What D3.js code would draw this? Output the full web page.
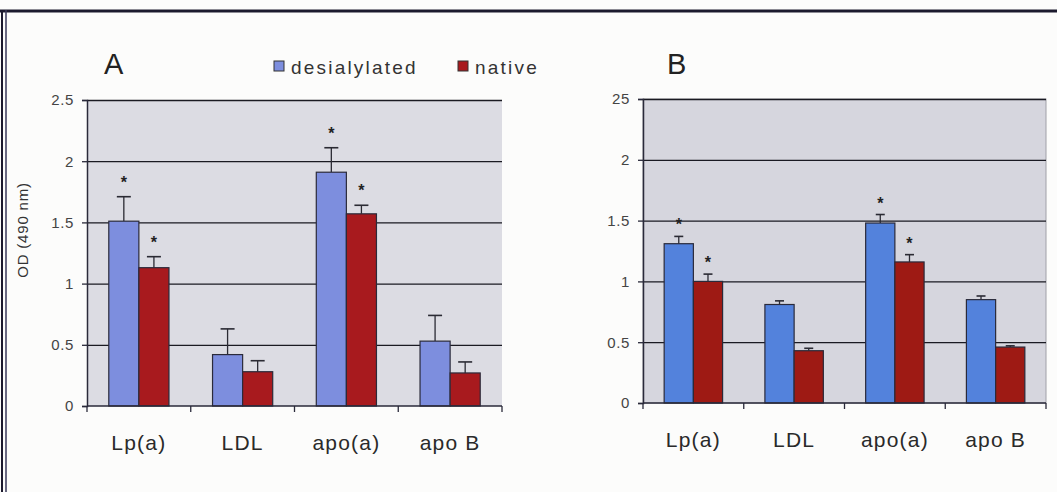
<html>
<head>
<script src="https://d3js.org/d3.v7.min.js"></script>
<style>
  body { margin: 0; background: #fcfcfb; }
  text { font-family: "Liberation Sans", Arial, sans-serif; }
</style>
</head>
<body>
<svg id="chart" width="1057" height="492"></svg>
<script>
// categories and series
const categories = ["Lp(a)", "LDL", "apo(a)", "apo B"];
const seriesNames = ["desialylated", "native"];

// panel A values (OD 490 nm) and upper error
const aDesial = [1.51, 0.42, 1.91, 0.53];
const aDesialErr = [0.20, 0.21, 0.20, 0.21];
const aNative = [1.13, 0.28, 1.57, 0.27];
const aNativeErr = [0.09, 0.09, 0.07, 0.09];

// panel B values
const bDesial = [1.31, 0.81, 1.48, 0.85];
const bDesialErr = [0.06, 0.03, 0.07, 0.03];
const bNative = [1.00, 0.43, 1.16, 0.46];
const bNativeErr = [0.06, 0.02, 0.06, 0.01];

// which categories carry a significance star
const significant = [true, false, true, false];

// y ticks
const yTicks = [0, 0.5, 1, 1.5, 2, 2.5];
const aTickLabels = ["0", "0.5", "1", "1.5", "2", "2.5"];
const bTickLabels = ["0", "0.5", "1", "1.5", "2", "25"];

const svg = d3.select('svg#chart');

// outer frame of the figure
svg.append('rect').attr('x', 0).attr('y', 0).attr('width', 1057).attr('height', 492).attr('fill', '#fcfcfb');
svg.append('line').attr('x1', 0).attr('x2', 1057).attr('y1', 11).attr('y2', 11)
    .attr('stroke', '#1c1a2e').attr('stroke-width', 3);
svg.append('line').attr('x1', 2).attr('x2', 2).attr('y1', 10).attr('y2', 492)
    .attr('stroke', '#1c1a2e').attr('stroke-width', 2);
svg.append('line').attr('x1', 6).attr('x2', 6).attr('y1', 10).attr('y2', 492)
    .attr('stroke', '#3a3a5a').attr('stroke-width', 1.5);

function drawPanel(p) {
    const xScale = d3.scaleBand().domain(categories).range([p.left, p.right])
        .paddingInner(0.42).paddingOuter(0.21);
    const xSeries = d3.scaleBand().domain(seriesNames).range([0, xScale.bandwidth()]);
    const yScale = d3.scaleLinear().domain([0, 2.5]).range([p.bottom, p.top]);

    // plot background
    svg.append('rect')
        .attr('x', p.left).attr('y', p.top)
        .attr('width', p.right - p.left).attr('height', p.bottom - p.top)
        .attr('fill', p.bg)
        .attr('stroke', p.frame ? '#a0a0a8' : 'none');

    // gridlines
    let grid = d3.axisLeft(yScale).tickValues(yTicks.slice(1)).tickSize(-(p.right - p.left)).tickFormat('');
    let gg = svg.append('g')
        .attr('transform', `translate(${p.left},0)`)
        .call(grid);
    gg.selectAll('line').attr('stroke', '#1a1a22').attr('stroke-width', 1.3);
    gg.select('.domain').remove();

    // bars
    const series = [
        {name: 'desialylated', vals: p.desial, errs: p.desialErr, color: p.blue},
        {name: 'native', vals: p.native, errs: p.nativeErr, color: p.red}
    ];
    series.forEach(s => {
        categories.forEach((c, i) => {
            const x0 = xScale(c) + xSeries(s.name);
            const w = xSeries.bandwidth();
            const cx = x0 + w / 2;
            const top = s.vals[i] + s.errs[i];
            // error bar
            svg.append('line').attr('x1', cx).attr('x2', cx)
                .attr('y1', yScale(s.vals[i])).attr('y2', yScale(top))
                .attr('stroke', '#2a2a33').attr('stroke-width', 1.3);
            svg.append('line').attr('x1', cx - p.cap / 2).attr('x2', cx + p.cap / 2)
                .attr('y1', yScale(top)).attr('y2', yScale(top))
                .attr('stroke', '#2a2a33').attr('stroke-width', 1.6);
            svg.append('rect')
                .attr('x', x0).attr('y', yScale(s.vals[i]))
                .attr('width', w).attr('height', yScale(0) - yScale(s.vals[i]))
                .attr('fill', s.color)
                .attr('stroke', '#2a2a3a').attr('stroke-width', 1.2);
            if (significant[i]) {
                svg.append('text')
                    .attr('x', cx).attr('y', yScale(top) - p.starGap + 9)
                    .attr('text-anchor', 'middle')
                    .attr('font-size', 16).attr('font-weight', 'bold')
                    .attr('fill', '#222')
                    .text('*');
            }
        });
    });

    // y axis
    let leftAxis = d3.axisLeft(yScale).tickValues(yTicks).tickSize(5).tickPadding(8)
        .tickFormat((d, i) => p.tickLabels[i]);
    let ya = svg.append('g')
        .attr('transform', `translate(${p.left},0)`)
        .call(leftAxis);
    ya.select('.domain').attr('stroke', '#2a2a3a').attr('stroke-width', 1.5);
    ya.selectAll('line').attr('stroke', '#2a2a3a').attr('stroke-width', 1.3);
    ya.selectAll('text').attr('font-size', 15).attr('fill', '#444')
        .attr('letter-spacing', 0.6)
        .attr('font-family', '"Liberation Sans", Arial, sans-serif');

    // x axis with ticks between categories
    svg.append('line').attr('x1', p.left).attr('x2', p.right)
        .attr('y1', p.bottom).attr('y2', p.bottom)
        .attr('stroke', '#2a2a3a').attr('stroke-width', 1.6);
    categories.concat(['end']).forEach((c, i) => {
        const tx = p.left + i * (p.right - p.left) / categories.length;
        svg.append('line').attr('x1', tx).attr('x2', tx)
            .attr('y1', p.bottom).attr('y2', p.bottom + 6)
            .attr('stroke', '#2a2a3a').attr('stroke-width', 1.3);
    });
    categories.forEach(c => {
        svg.append('text')
            .attr('x', xScale(c) + xScale.bandwidth() / 2)
            .attr('y', p.bottom + 44)
            .attr('text-anchor', 'middle')
            .attr('font-size', 21).attr('fill', '#2a2a2a')
            .attr('letter-spacing', 1.2)
            .text(c);
    });

    // panel letter
    svg.append('text').attr('x', p.letterX).attr('y', 74)
        .attr('font-size', 29).attr('fill', '#222').text(p.letter);
}

drawPanel({
    letter: 'A', letterX: 104,
    left: 87, right: 502, top: 100, bottom: 406,
    desial: aDesial, desialErr: aDesialErr, native: aNative, nativeErr: aNativeErr,
    blue: '#7d8ede', red: '#a81a1e', bg: '#dcdce3', frame: false,
    cap: 14, starGap: 18, tickLabels: aTickLabels
});

drawPanel({
    letter: 'B', letterX: 667,
    left: 643, right: 1046, top: 99, bottom: 403,
    desial: bDesial, desialErr: bDesialErr, native: bNative, nativeErr: bNativeErr,
    blue: '#5382dc', red: '#9e1a14', bg: '#d6d6de', frame: true,
    cap: 9, starGap: 15, tickLabels: bTickLabels
});

// y-axis title of panel A
svg.append('text')
    .attr('transform', 'translate(28,230) rotate(-90)')
    .attr('text-anchor', 'middle')
    .attr('font-size', 15).attr('fill', '#333')
    .attr('letter-spacing', 0.8)
    .text('OD (490 nm)');

// legend
const legendX = [274, 458];
const legendColors = ['#7d8ede', '#a81a1e'];
seriesNames.forEach((n, i) => {
    svg.append('rect').attr('x', legendX[i]).attr('y', 61)
        .attr('width', 10).attr('height', 10)
        .attr('fill', legendColors[i]).attr('stroke', '#333').attr('stroke-width', 1);
    svg.append('text').attr('x', legendX[i] + 17).attr('y', 74)
        .attr('font-size', 19).attr('fill', '#333')
        .attr('letter-spacing', 2.2)
        .text(n);
});
</script>
</body>
</html>
